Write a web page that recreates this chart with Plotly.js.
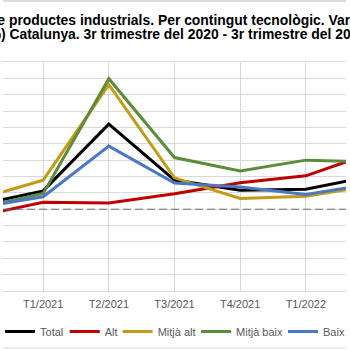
<!DOCTYPE html>
<html>
<head>
<meta charset="utf-8">
<script src="https://cdn.plot.ly/plotly-3.0.1.min.js"></script>
<style>html,body{margin:0;padding:0;background:#fff;}#chart{width:350px;height:350px;}</style>
</head>
<body>
<div id="chart"></div>
<script>
var categories = ["T4/2020", "T1/2021", "T2/2021", "T3/2021", "T4/2021", "T1/2022", "T2/2022"];
var total     = [1.3, 5.6, 26.0, 8.9, 5.8, 6.1, 10.1];
var alt       = [-2.1, 2.1, 1.9, 4.7, 8.1, 10.2, 17.2];
var mitjaAlt  = [3.0, 8.9, 38.1, 9.6, 3.3, 4.0, 7.2];
var mitjaBaix = [0.3, 4.8, 39.9, 15.8, 11.7, 15.0, 14.5];
var baix      = [0.5, 3.8, 19.3, 8.0, 6.8, 4.5, 7.7];
var seriesNames = ["Total", "Alt", "Mitjà alt", "Mitjà baix", "Baix"];
var titleLine1 = "Exportacions de productes industrials. Per contingut tecnològic. Variació interanual";
var titleLine2 = "(%) Catalunya. 3r trimestre del 2020 - 3r trimestre del 2022";

var colors = ["#000000", "#C00000", "#C49A16", "#5B8C3A", "#4A78C4"];
var data = [total, alt, mitjaAlt, mitjaBaix, baix];
var legendIds = ["legend", "legend2", "legend3", "legend4", "legend5"];
var traces = data.map(function (vals, i) {
  return {
    type: "scatter", mode: "lines", x: categories, y: vals, name: seriesNames[i],
    line: {color: colors[i], width: 3}, legend: legendIds[i]
  };
});

function py(px) { return (291 - px) / 229; }
function pxx(px) { return px / 350; }

var legendX = [-3, 63, 117, 197, 286];

var layout = {
  width: 350, height: 350, autosize: false,
  margin: {l: 0, r: 0, t: 62, b: 59, pad: 0},
  paper_bgcolor: "#ffffff", plot_bgcolor: "#ffffff",
  font: {family: "Liberation Sans, Arial, sans-serif", color: "#595959", size: 11},
  showlegend: true,
  xaxis: {type: "category", range: [0.388, 5.612], showgrid: true, gridcolor: "#d9d9d9", gridwidth: 1,
    showline: true, linecolor: "#d9d9d9", mirror: true, ticks: "", tickfont: {size: 11, color: "#595959"},
    ticklabelstandoff: 3, zeroline: false, fixedrange: true},
  yaxis: {range: [-25, 45], dtick: 5, tick0: 0, showgrid: true, gridcolor: "#d9d9d9", gridwidth: 1,
    showticklabels: false, zeroline: false, showline: false, ticks: "", fixedrange: true},
  shapes: [
    {type: "line", xref: "paper", yref: "y", x0: 0, x1: 1, y0: 0, y1: 0,
      line: {color: "#6f6f6f", width: 1, dash: "8px,4px"}},
    {type: "line", xref: "paper", yref: "paper", x0: 0, x1: 1, y0: py(1), y1: py(1),
      line: {color: "#d0d0d0", width: 1.5}},
    {type: "line", xref: "paper", yref: "paper", x0: 0, x1: 1, y0: py(348), y1: py(348),
      line: {color: "#d9d9d9", width: 1}}
  ],
  annotations: [
    {text: "<b>" + titleLine1 + "</b>", xref: "paper", yref: "paper", x: 0.5, xanchor: "center",
      y: py(20.5), yanchor: "middle", showarrow: false, font: {size: 13.9, color: "#000000"}},
    {text: "<b>" + titleLine2 + "</b>", xref: "paper", yref: "paper", x: 0.5, xanchor: "center",
      y: py(34), yanchor: "middle", showarrow: false, font: {size: 13.9, color: "#000000"}}
  ]
};

legendIds.forEach(function (id, i) {
  layout[id] = {orientation: "h", x: pxx(legendX[i]), xanchor: "left", y: py(331.5), yanchor: "middle",
    font: {size: 11, color: "#595959"}, itemwidth: 30, bgcolor: "rgba(0,0,0,0)", borderwidth: 0};
});

Plotly.newPlot("chart", traces, layout, {displayModeBar: false, staticPlot: true});
</script>
</body>
</html>
